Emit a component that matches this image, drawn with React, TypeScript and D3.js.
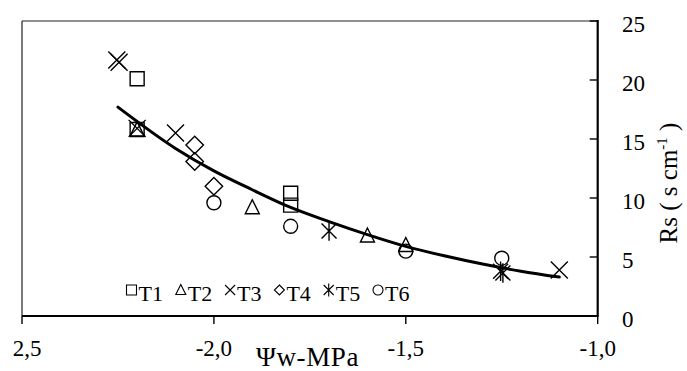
import React from 'react';
import * as d3 from 'd3';

// values
const xTicks = [-2.5, -2.0, -1.5, -1.0];
const xTickLabels = ['2,5', '-2,0', '-1,5', '-1,0'];
const yTicks = [0, 5, 10, 15, 20, 25];

const t1X = [-2.2, -2.2, -1.8, -1.8];
const t1Y = [20.1, 15.8, 10.4, 9.4];
const t2X = [-2.2, -1.9, -1.6, -1.5];
const t2Y = [15.8, 9.2, 6.8, 6.0];
const t3X = [-2.253, -2.247, -2.2, -2.1, -1.1];
const t3Y = [21.7, 21.5, 15.9, 15.5, 3.9];
const t4X = [-2.05, -2.05, -2.0];
const t4Y = [14.5, 13.1, 11.0];
const t5X = [-1.7, -1.253, -1.247];
const t5Y = [7.2, 3.8, 3.65];
const t6X = [-2.0, -1.8, -1.5, -1.25];
const t6Y = [9.6, 7.6, 5.5, 4.9];

const fitX = [-2.25, -2.1, -2.0, -1.9, -1.8, -1.7, -1.6, -1.5, -1.4, -1.3, -1.2, -1.1];
const fitY = [17.7, 14.2, 12.3, 10.7, 9.2, 8.0, 6.9, 5.9, 5.1, 4.4, 3.8, 3.3];

const seriesNames = ['T1', 'T2', 'T3', 'T4', 'T5', 'T6'];

const width = 687;
const height = 371;
const font = '"Liberation Serif", "Times New Roman", serif';

// marker path, centred on 0,0
function markerPath(kind: string, s: number) {
  switch (kind) {
    case 'T1':
      return `M${-s},${-s}H${s}V${s}H${-s}Z`;
    case 'T2':
      return `M0,${-s * 1.1}L${s},${s * 0.9}H${-s}Z`;
    case 'T3':
      return `M${-s},${-s}L${s},${s}M${s},${-s}L${-s},${s}`;
    case 'T4':
      return `M0,${-s * 1.25}L${s * 1.25},0L0,${s * 1.25}L${-s * 1.25},0Z`;
    case 'T5':
      return `M${-s},${-s}L${s},${s}M${s},${-s}L${-s},${s}M0,${-s * 1.3}V${s * 1.3}`;
    default:
      return d3.arc()({ innerRadius: 0, outerRadius: s, startAngle: 0, endAngle: 2 * Math.PI }) || '';
  }
}

export default function App() {
  const x = d3.scaleLinear().domain([-2.5, -1.0]).range([22, 597.7]);
  const y = d3.scaleLinear().domain([0, 25]).range([316, 21]);

  const series = [
    { name: 'T1', xs: t1X, ys: t1Y, s: 7 },
    { name: 'T2', xs: t2X, ys: t2Y, s: 7 },
    { name: 'T3', xs: t3X, ys: t3Y, s: 8.5 },
    { name: 'T4', xs: t4X, ys: t4Y, s: 7 },
    { name: 'T5', xs: t5X, ys: t5Y, s: 7.5 },
    { name: 'T6', xs: t6X, ys: t6Y, s: 7 },
  ];

  const fitLine = d3.line<number>()
    .x((d, i) => x(fitX[i]))
    .y(d => y(d))
    .curve(d3.curveMonotoneX)(fitY);

  const legendX = d3.scaleLinear().domain([0, 5]).range([131.5, 378]);

  return (
    <svg width={width} height={height} style={{ position: 'absolute', left: 0, top: 0, background: 'white' }}
      fontFamily={font}>
      {/* frame */}
      <line x1={x(-2.5)} x2={x(-1.0)} y1={y(25)} y2={y(25)} stroke="#222" strokeWidth={1.2} />
      <line x1={x(-2.5)} x2={x(-2.5)} y1={y(25)} y2={y(0)} stroke="#222" strokeWidth={1.2} />

      {/* fitted curve */}
      <path d={fitLine || ''} fill="none" stroke="black" strokeWidth={3} strokeLinecap="round" />

      {/* points */}
      {series.map(se => se.xs.map((v, i) => (
        <path key={se.name + i} d={markerPath(se.name, se.s)}
          transform={`translate(${x(v)},${y(se.ys[i])})`}
          fill="none" stroke="black" strokeWidth={1.4} />
      )))}

      {/* bottom axis */}
      <line x1={x(-2.5)} x2={x(-1.0) + 1} y1={y(0)} y2={y(0)} stroke="black" strokeWidth={2.2} />
      {xTicks.map((t, i) => (
        <g key={t}>
          <line x1={x(t)} x2={x(t)} y1={y(0)} y2={y(0) + 8} stroke="black" strokeWidth={1.4} />
          <text x={i === 0 ? x(t) + 5 : x(t)} y={356} textAnchor="middle" fontSize={23}>{xTickLabels[i]}</text>
        </g>
      ))}
      <text x={256} y={366} fontSize={27} letterSpacing={0.6}>Ψw-MPa</text>

      {/* right axis */}
      <line x1={x(-1.0)} x2={x(-1.0)} y1={y(25) - 1} y2={y(0)} stroke="black" strokeWidth={2.2} />
      {yTicks.map(t => (
        <g key={t}>
          <line x1={x(-1.0) - 8} x2={x(-1.0)} y1={y(t)} y2={y(t)} stroke="black" strokeWidth={1.4} />
          <text x={622} y={y(t) + 11} fontSize={23}>{t}</text>
        </g>
      ))}
      <text transform="translate(677,183) rotate(-90)" textAnchor="middle" fontSize={25}>
        Rs ( s cm<tspan dy={-10} fontSize={15}>-1</tspan><tspan dy={10}> )</tspan>
      </text>

      {/* legend */}
      {seriesNames.map((n, i) => (
        <g key={n} transform={`translate(${legendX(i)},290)`}>
          <path d={markerPath(n, n === 'T4' ? 4 : 5)} fill="none" stroke="black" strokeWidth={1.1} />
          <text x={7} y={11} fontSize={22}>{n}</text>
        </g>
      ))}
    </svg>
  );
}
